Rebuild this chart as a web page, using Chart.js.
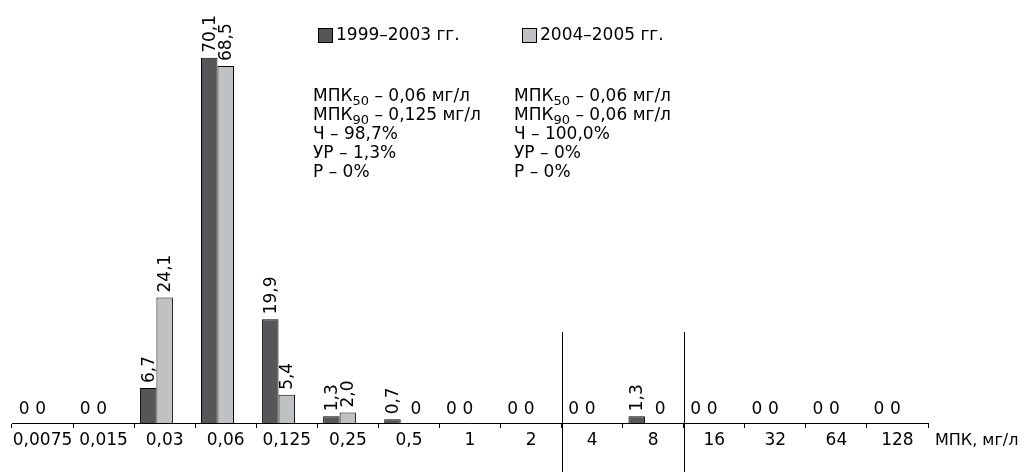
<!DOCTYPE html>
<html>
<head>
<meta charset="utf-8">
<script src="https://cdn.jsdelivr.net/npm/chart.js@4"></script>
<style>
html, body { margin: 0; padding: 0; background: #fff; }
#wrap { width: 1029px; height: 472px; }
</style>
</head>
<body>
<div id="wrap"><canvas id="barChart"></canvas></div>
<script>
// categories (МПК, мг/л)
var doses = ["0,0075", "0,015", "0,03", "0,06", "0,125", "0,25", "0,5", "1", "2", "4", "8", "16", "32", "64", "128"];
// % of strains
var period1 = [0, 0, 6.7, 70.1, 19.9, 1.3, 0.7, 0, 0, 0, 1.3, 0, 0, 0, 0];
var period2 = [0, 0, 24.1, 68.5, 5.4, 2.0, 0, 0, 0, 0, 0, 0, 0, 0, 0];
// empty slot on the right of each pair
var spacer = [0, 0, 0, 0, 0, 0, 0, 0, 0, 0, 0, 0, 0, 0, 0];
var seriesNames = ["1999–2003 гг.", "2004–2005 гг."];
var axisTitle = "МПК, мг/л";
var notes1 = [["МПК", "50", " – 0,06 мг/л"], ["МПК", "90", " – 0,125 мг/л"], ["Ч – 98,7%"], ["УР – 1,3%"], ["Р – 0%"]];
var notes2 = [["МПК", "50", " – 0,06 мг/л"], ["МПК", "90", " – 0,06 мг/л"], ["Ч – 100,0%"], ["УР – 0%"], ["Р – 0%"]];
// borders between susceptibility groups (after these category indexes)
var breaks = [8, 10];

var FONT = '"DejaVu Sans", Verdana, sans-serif';
var DARK = '#565658';
var LIGHT = '#c0c1c3';

function fmt(v) {
  return v === 0 ? "0" : v.toFixed(1).replace('.', ',');
}

var extras = {
  id: 'extras',
  afterDatasetsDraw: function (chart) {
    var ctx = chart.ctx;
    var x = chart.scales.x;
    var y = chart.scales.y;
    var base = y.getPixelForValue(0);
    var d0 = chart.data.datasets[0].data, d1 = chart.data.datasets[1].data;
    ctx.save();
    ctx.fillStyle = '#000';
    // value labels
    [0, 1].forEach(function (di) {
      var meta = chart.getDatasetMeta(di);
      var vals = chart.data.datasets[di].data;
      meta.data.forEach(function (bar, i) {
        var v = vals[i];
        ctx.font = '17px ' + FONT;
        if (v === 0) {
          var shift = (di === 1 && d0[i] !== 0) ? 7 : -2;
          ctx.textAlign = 'center';
          ctx.textBaseline = 'alphabetic';
          ctx.fillText("0", bar.x + shift, base - 9);
        } else {
          ctx.save();
          ctx.translate(bar.x + 1, bar.y - 5);
          ctx.rotate(-Math.PI / 2);
          ctx.textAlign = 'left';
          ctx.textBaseline = 'middle';
          ctx.fillText(fmt(v), 0, 0);
          ctx.restore();
        }
      });
    });
    // group separators
    ctx.strokeStyle = '#000';
    ctx.lineWidth = 1;
    breaks.forEach(function (b) {
      var px = Math.round((x.getPixelForValue(b) + x.getPixelForValue(b + 1)) / 2) + 0.5;
      ctx.beginPath();
      ctx.moveTo(px, 332);
      ctx.lineTo(px, chart.height);
      ctx.stroke();
    });
    // axis title
    ctx.font = '16px ' + FONT;
    ctx.textAlign = 'left';
    ctx.textBaseline = 'middle';
    ctx.fillText(axisTitle, 935, 441);
    // legend
    var legX = [318, 522];
    var cols = [DARK, LIGHT];
    ctx.font = '17px ' + FONT;
    legX.forEach(function (lx, k) {
      ctx.fillStyle = cols[k];
      ctx.fillRect(lx, 28, 15, 15);
      ctx.strokeStyle = '#000';
      ctx.strokeRect(lx + 0.5, 28.5, 14, 14);
      ctx.fillStyle = '#000';
      ctx.fillText(seriesNames[k], lx + 18, 36);
    });
    // notes
    function drawNotes(notes, nx) {
      notes.forEach(function (parts, r) {
        var ny = 97 + r * 19;
        var cx = nx;
        ctx.font = '17px ' + FONT;
        ctx.fillText(parts[0], cx, ny);
        cx += ctx.measureText(parts[0]).width;
        if (parts.length > 1) {
          ctx.font = '13px ' + FONT;
          ctx.fillText(parts[1], cx, ny + 5);
          cx += ctx.measureText(parts[1]).width;
          ctx.font = '17px ' + FONT;
          ctx.fillText(parts[2], cx, ny);
        }
      });
    }
    drawNotes(notes1, 313);
    drawNotes(notes2, 514);
    ctx.restore();
  }
};

var ctxB = document.getElementById("barChart").getContext('2d');
var myBarChart = new Chart(ctxB, {
  type: 'bar',
  data: {
    labels: doses,
    datasets: [{
      label: seriesNames[0],
      data: period1,
      backgroundColor: DARK,
      borderColor: '#000',
      borderWidth: 1
    },
    {
      label: seriesNames[1],
      data: period2,
      backgroundColor: LIGHT,
      borderColor: '#000',
      borderWidth: 1
    },
    {
      label: '',
      data: spacer,
      backgroundColor: 'rgba(0,0,0,0)',
      borderWidth: 0
    }]
  },
  options: {
    responsive: true,
    maintainAspectRatio: false,
    animation: false,
    layout: { padding: { left: 12, right: 101, top: 1, bottom: 0 } },
    datasets: { bar: { categoryPercentage: 0.81, barPercentage: 1 } },
    plugins: { legend: { display: false }, tooltip: { enabled: false } },
    scales: {
      x: {
        grid: { drawOnChartArea: false, drawTicks: true, tickLength: 5, color: '#000' },
        border: { display: true, color: '#000', width: 1 },
        ticks: { color: '#000', font: { family: FONT, size: 17 }, padding: 2, maxRotation: 0, autoSkip: false },
        afterFit: function (scale) { scale.height = 49; }
      },
      y: {
        display: false,
        min: 0,
        max: 81
      }
    }
  },
  plugins: [extras]
});
</script>
</body>
</html>
